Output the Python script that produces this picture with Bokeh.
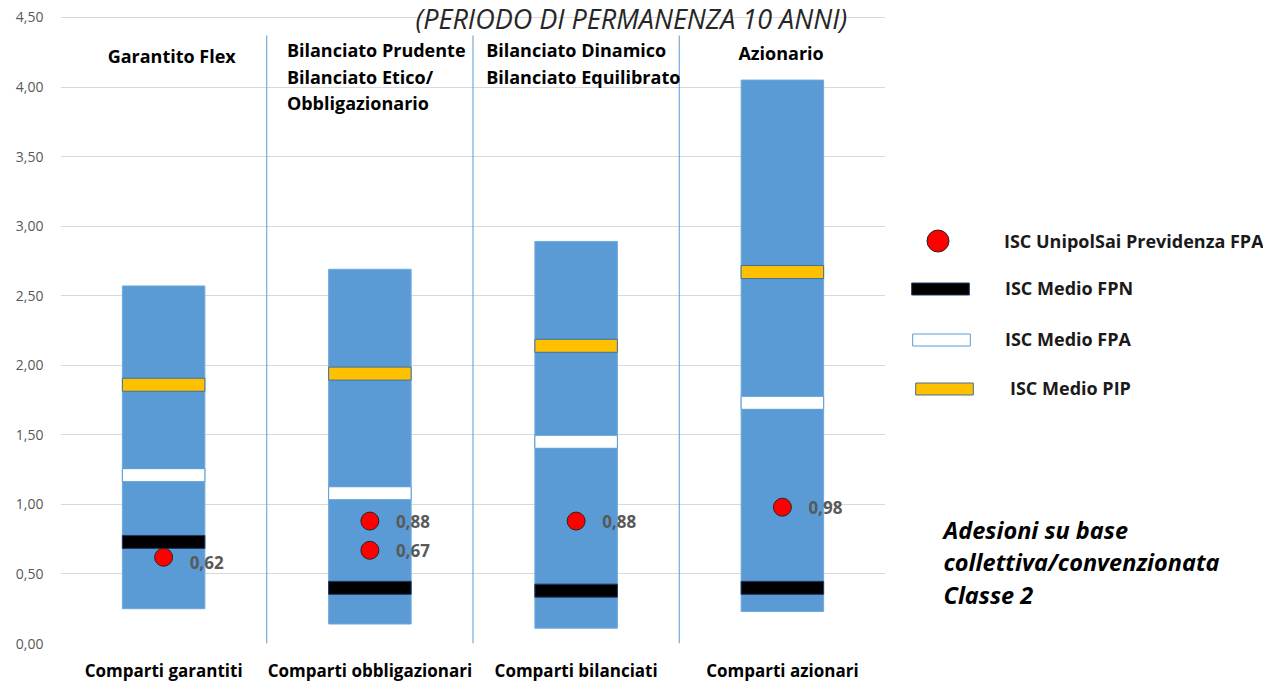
from bokeh.plotting import figure
from bokeh.models import Range1d, FixedTicker, ColumnDataSource, Legend, LegendItem, Label, FactorRange
from bokeh.layouts import row
from bokeh.core.properties import value
from bokeh.embed import file_html
from bokeh.resources import INLINE

# ---------------- data ----------------
categories = ["Comparti garantiti", "Comparti obbligazionari", "Comparti bilanciati", "Comparti azionari"]
range_min = [0.25, 0.14, 0.11, 0.23]
range_max = [2.57, 2.69, 2.89, 4.05]
isc_fpn = [0.73, 0.40, 0.38, 0.40]
isc_fpa = [1.21, 1.08, 1.45, 1.73]
isc_pip = [1.86, 1.94, 2.14, 2.67]
unipol_cat = ["Comparti garantiti", "Comparti obbligazionari", "Comparti obbligazionari",
              "Comparti bilanciati", "Comparti azionari"]
unipol_val = [0.62, 0.88, 0.67, 0.88, 0.98]
headers = ["Garantito Flex",
           "Bilanciato Prudente\nBilanciato Etico/\nObbligazionario",
           "Bilanciato Dinamico\nBilanciato Equilibrato",
           "Azionario"]
y_ticks = [0.0, 0.5, 1.0, 1.5, 2.0, 2.5, 3.0, 3.5, 4.0, 4.5]
title_text = "(PERIODO DI PERMANENZA 10 ANNI)"
note_text = "Adesioni su base\ncollettiva/convenzionata\nClasse 2"
legend_labels = ["ISC UnipolSai Previdenza FPA", "ISC Medio FPN", "ISC Medio FPA", "ISC Medio PIP"]

def fmt(v):
    return f"{v:.2f}".replace(".", ",")

FONT = "Open Sans"
BLUE = "#5b9bd5"
PIP_STYLE = dict(fill_color="#ffc000", line_color="#41719c", line_width=1)
FPA_STYLE = dict(fill_color="#ffffff", line_color="#5b9bd5", line_width=1)
FPN_STYLE = dict(fill_color="#000000", line_color="#1f3864", line_width=1)
UNI_STYLE = dict(fill_color="#ff0000", line_color="#262626", line_width=1)

# ---------------- main chart ----------------
# the frame reaches the top of the page (a little head-room above 4,50 for the title)
p = figure(width=885, height=700, x_range=FactorRange(factors=categories), y_range=Range1d(0, 4.622),
           output_backend="svg", toolbar_location=None,
           min_border_left=60, min_border_right=0, min_border_top=0, min_border_bottom=57)
p.outline_line_color = None
p.xgrid.grid_line_color = None
p.ygrid.grid_line_color = "#d9d9d9"
p.ygrid.grid_line_width = 1

p.yaxis.ticker = FixedTicker(ticks=y_ticks)
p.yaxis.major_label_overrides = {t: fmt(t) for t in y_ticks}
for ax in (p.xaxis[0], p.yaxis[0]):
    ax.axis_line_color = None
    ax.major_tick_line_color = None
    ax.minor_tick_line_color = None
    ax.major_tick_out = 0
    ax.major_tick_in = 0
    ax.major_label_text_font = FONT
p.yaxis.major_label_text_font_size = "14px"
p.yaxis.major_label_text_color = "#595959"
p.yaxis.major_label_standoff = 17
p.xaxis.major_label_text_font_size = "17px"
p.xaxis.major_label_text_font_style = "bold"
p.xaxis.major_label_text_color = "#000000"
p.xaxis.major_label_standoff = 15

# column dividers (category boundaries in synthetic coordinates)
p.segment(x0=[1, 2, 3], y0=0, x1=[1, 2, 3], y1=4.37, line_color=BLUE, line_width=1)

src = ColumnDataSource(dict(cat=categories, lo=range_min, hi=range_max,
                            fpn=isc_fpn, fpa=isc_fpa, pip=isc_pip, head=headers,
                            hx=[-56, -83, -90, -44], hy=[27, 21, 21, 24]))

p.vbar(x="cat", bottom="lo", top="hi", width=0.4, source=src,
       fill_color=BLUE, line_color="#6fa9dd", line_width=1)

p.rect(x="cat", y="pip", width=0.4, height=13, height_units="screen", source=src, **PIP_STYLE)
p.rect(x="cat", y="fpa", width=0.4, height=13, height_units="screen", source=src, **FPA_STYLE)
p.rect(x="cat", y="fpn", width=0.4, height=13, height_units="screen", source=src, **FPN_STYLE)

usrc = ColumnDataSource(dict(cat=unipol_cat, v=unipol_val, t=[fmt(v) for v in unipol_val],
                             dy=[5, 0, 0, 0, 0]))
p.scatter(x="cat", y="v", size=18, source=usrc, **UNI_STYLE)
p.text(x="cat", y="v", text="t", source=usrc, x_offset=26, y_offset="dy",
       text_font=value(FONT), text_font_style="bold", text_font_size="17px",
       text_color="#595959", text_baseline="middle", text_align="left")

# column headers
p.text(x="cat", y=4.5, text="head", source=src, x_offset="hx", y_offset="hy",
       text_font=value(FONT), text_font_style="bold", text_font_size="18px",
       text_color="#000000", text_baseline="top", text_align="left", text_line_height=1.1)

p.add_layout(Label(x=355, y=625, x_units="screen", y_units="screen", text=title_text,
                   text_font=FONT, text_font_style="italic", text_font_size="27px",
                   text_color="#262626", text_baseline="middle"))

# ---------------- side panel: legend + note ----------------
# (its frame is aligned with the main chart's frame bottom at 57px)
q = figure(width=378, height=700, x_range=Range1d(0, 1), y_range=Range1d(0, 1),
           output_backend="svg", toolbar_location=None, x_axis_type=None, y_axis_type=None,
           min_border=0)
q.outline_line_color = None
q.grid.visible = False

# legend-only renderers, placed outside the visible range
l_uni = q.scatter(x=[-5], y=[-5], size=18, **UNI_STYLE)
l_fpn = q.rect(x=[-5], y=[-5], width=1, height=1, **FPN_STYLE)
l_fpa = q.rect(x=[-5], y=[-5], width=1, height=1, **FPA_STYLE)
l_pip = q.rect(x=[-5], y=[-5], width=1, height=1, **PIP_STYLE)

def add_legend(label, renderer, gw, gh, lh, standoff, loc):
    lg = Legend(items=[LegendItem(label=label, renderers=[renderer])], location=loc,
                glyph_width=gw, glyph_height=gh, label_height=lh, label_standoff=standoff,
                padding=0, margin=0, spacing=0, border_line_color=None,
                background_fill_alpha=0, label_text_font=FONT, label_text_font_style="bold",
                label_text_font_size="18px", label_text_color="#1a1a1a")
    q.add_layout(lg)

add_legend(legend_labels[0], l_uni, 55, 55, 20, 39, (25, 375))
add_legend(legend_labels[1], l_fpn, 72, 15, 40, 29, (19, 335))
add_legend(legend_labels[2], l_fpa, 72, 15, 40, 28, (20, 284))
add_legend(legend_labels[3], l_pip, 72, 15, 40, 30, (23, 235))

q.add_layout(Label(x=58, y=130, x_units="screen", y_units="screen", text=note_text,
                   text_font=FONT, text_font_style="bold italic", text_font_size="23.5px",
                   text_color="#000000", text_baseline="top", text_line_height=1.03))

open("out.html", "w").write(file_html(row(p, q), INLINE))
